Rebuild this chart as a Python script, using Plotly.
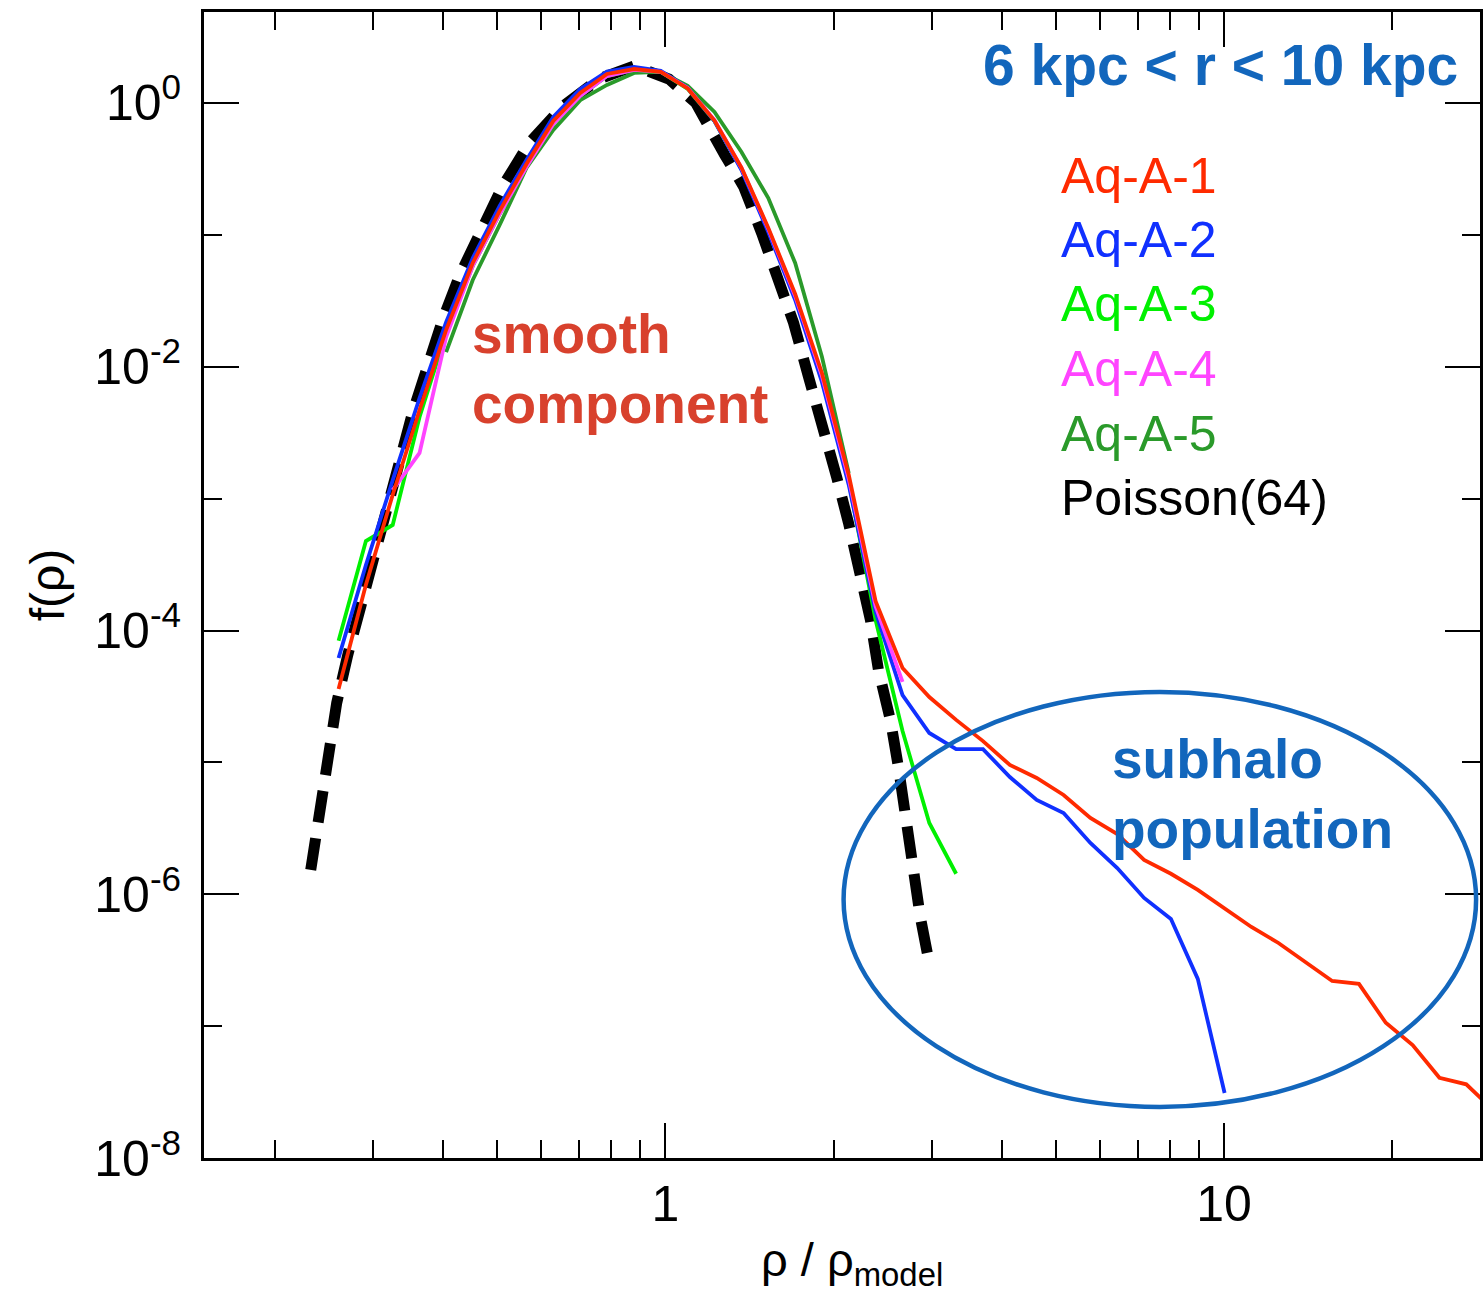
import plotly.graph_objects as go

# ---------------- data ----------------
# common density-ratio bins of the simulation histograms
rho_bins = [0.260, 0.291, 0.325, 0.363, 0.405, 0.452, 0.505, 0.564, 0.630, 0.704,
            0.786, 0.879, 0.981, 1.096, 1.224, 1.368, 1.528, 1.707, 1.906, 2.129,
            2.378, 2.657, 2.967, 3.314, 3.702, 4.135, 4.619, 5.160, 5.763, 6.438,
            7.191, 8.032, 8.972, 10.02, 11.19, 12.51, 13.97, 15.61, 17.43, 19.47,
            21.75, 24.29, 27.13, 30.30]

f_aq_a_1 = [3.60e-5, 2.22e-4, 1.07e-3, 4.70e-3, 1.90e-2, 6.12e-2, 0.152, 0.345, 0.730, 1.19,
            1.66, 1.81, 1.72, 1.29, 0.737, 0.324, 0.113, 3.56e-2, 8.97e-3, 1.51e-3,
            1.67e-4, 5.20e-5, 3.13e-5, 2.10e-5, 1.45e-5, 9.55e-6, 7.62e-6, 5.66e-6, 3.79e-6, 2.86e-6,
            1.82e-6, 1.43e-6, 1.08e-6, 7.87e-7, 5.65e-7, 4.27e-7, 3.04e-7, 2.20e-7, 2.09e-7, 1.06e-7,
            7.19e-8, 4.06e-8, 3.62e-8, 2.31e-8]

f_aq_a_2 = [6.18e-5, 3.14e-4, 1.38e-3, 5.79e-3, 2.18e-2, 6.68e-2, 0.166, 0.370, 0.783, 1.28,
            1.73, 1.88, 1.75, 1.30, 0.730, 0.310, 0.105, 3.21e-2, 7.66e-3, 1.27e-3,
            1.38e-4, 3.24e-5, 1.67e-5, 1.26e-5, 1.26e-5, 7.74e-6, 5.19e-6, 4.13e-6, 2.45e-6, 1.58e-6,
            9.37e-7, 6.49e-7, 2.28e-7, 3.11e-8,
            None, None, None, None, None, None, None, None, None, None]

f_aq_a_3 = [8.37e-5, 4.77e-4, 6.31e-4, 4.16e-3, 1.80e-2, 5.81e-2, 0.144, 0.327, 0.693, 1.13,
            1.60, 1.78, 1.72, 1.28, 0.730, 0.316, 0.109, 3.38e-2, 8.22e-3, 1.34e-3,
            1.20e-4, 1.73e-5, 3.47e-6, 1.43e-6,
            None, None, None, None, None, None, None, None, None, None,
            None, None, None, None, None, None, None, None, None, None]

f_aq_a_4 = [None, None,
            1.16e-3, 2.22e-3, 1.68e-2, 5.81e-2, 0.144, 0.327, 0.693, 1.13,
            1.60, 1.78, 1.72, 1.30, 0.743, 0.322, 0.111, 3.44e-2, 8.51e-3, 1.41e-3,
            1.53e-4, 4.07e-5,
            None, None, None, None, None, None, None, None, None, None,
            None, None, None, None, None, None, None, None, None, None,
            None, None]

f_aq_a_5 = [None, None, None, None,
            1.29e-2, 4.55e-2, 0.119, 0.322, 0.624, 1.05,
            1.37, 1.69, 1.72, 1.35, 0.855, 0.425, 0.190, 6.12e-2, 1.19e-2, 1.56e-3,
            None, None, None, None, None, None, None, None, None, None,
            None, None, None, None, None, None, None, None, None, None,
            None, None, None, None]

# Poisson(64) reference curve
rho_poisson = [0.2318, 0.2435, 0.2496, 0.2580, 0.2700, 0.2836, 0.2991, 0.3144, 0.3342, 0.3526,
               0.3735, 0.3991, 0.4278, 0.4645, 0.5105, 0.5706, 0.6533, 0.7606, 0.8786, 1.0145,
               1.1337, 1.277, 1.381, 1.487, 1.595, 1.696, 1.804, 1.919, 2.025, 2.127,
               2.234, 2.328, 2.406, 2.527, 2.612, 2.689, 2.778, 2.859, 2.954, 3.004]
f_poisson = [1.53e-6, 5.46e-6, 1.18e-5, 2.82e-5, 6.52e-5, 1.48e-4, 3.55e-4, 8.20e-4, 1.90e-3, 4.46e-3,
             9.95e-3, 2.26e-2, 4.88e-2, 0.103, 0.231, 0.497, 0.933, 1.52, 1.91, 1.52,
             1.00, 0.403, 0.231, 0.103, 4.79e-2, 2.15e-2, 8.36e-3, 3.49e-3, 1.46e-3, 6.53e-4,
             2.73e-4, 1.20e-4, 5.01e-5, 2.10e-5, 9.23e-6, 3.85e-6, 1.61e-6, 6.72e-7, 3.29e-7, 2.76e-7]

series_names = ["Aq-A-1", "Aq-A-2", "Aq-A-3", "Aq-A-4", "Aq-A-5", "Poisson(64)"]
series_colors = ["#FF2A00", "#1030FF", "#00F000", "#FF44FF", "#2A9A2A", "#000000"]

x_tickvals = [1, 10]
x_ticktext = ["1", "10"]
x_minor = [0.2, 0.3, 0.4, 0.5, 0.6, 0.7, 0.8, 0.9, 2, 3, 4, 5, 6, 7, 8, 9, 20]
y_tickvals = [1e-8, 1e-6, 1e-4, 1e-2, 1]
y_ticktext = ["10<sup>-8</sup>", "10<sup>-6</sup>", "10<sup>-4</sup>", "10<sup>-2</sup>", "10<sup>0</sup>"]
y_minor = [1e-7, 1e-5, 1e-3, 1e-1]

# subhalo region marked by the ellipse (data units)
ellipse_rho = [2.084, 28.25]
ellipse_f = [2.44e-8, 3.42e-5]

FONT = "Liberation Sans, Arial, Helvetica, sans-serif"
BLUE_TXT = "#1266BC"
RED_TXT = "#D8412D"

# ---------------- figure ----------------
fig = go.Figure()

fig.add_trace(go.Scatter(x=rho_poisson, y=f_poisson, mode="lines", name=series_names[5],
                         line=dict(color=series_colors[5], width=11, dash="32px,16px")))

sim = {"Aq-A-5": f_aq_a_5, "Aq-A-3": f_aq_a_3, "Aq-A-2": f_aq_a_2,
       "Aq-A-4": f_aq_a_4, "Aq-A-1": f_aq_a_1}
for name, vals in sim.items():
    col = series_colors[series_names.index(name)]
    fig.add_trace(go.Scatter(x=rho_bins, y=vals, mode="lines", name=name,
                             connectgaps=False, line=dict(color=col, width=3.8)))

fig.add_shape(type="circle", xref="x", yref="y",
              x0=ellipse_rho[0], x1=ellipse_rho[1], y0=ellipse_f[0], y1=ellipse_f[1],
              line=dict(color=BLUE_TXT, width=4.5))

W, H = 1483, 1295
L, R, T, B = 204, 0, 12, 137
PW, PH = W - L - R, H - T - B


def px(x):
    return (x - L) / PW


def py(y):
    return (H - B - y) / PH


ann = []
# legend-like coloured labels
legend_baselines = [192, 256, 321, 386, 450, 514]
for name, col, base in zip(series_names, series_colors, legend_baselines):
    ann.append(dict(text=name, x=px(1061), y=py(base - 16.5), xref="paper", yref="paper",
                    xanchor="left", yanchor="middle", showarrow=False,
                    font=dict(family=FONT, size=50, color=col)))

ann.append(dict(text="<b>6 kpc &lt; r &lt; 10 kpc</b>", x=px(1463), y=py(65), xref="paper", yref="paper",
                xanchor="right", yanchor="middle", showarrow=False,
                font=dict(family=FONT, size=57, color=BLUE_TXT)))
ann.append(dict(text="<b>smooth</b>", x=px(471), y=py(334), xref="paper", yref="paper",
                xanchor="left", yanchor="middle", showarrow=False,
                font=dict(family=FONT, size=55, color=RED_TXT)))
ann.append(dict(text="<b>component</b>", x=px(471), y=py(404), xref="paper", yref="paper",
                xanchor="left", yanchor="middle", showarrow=False,
                font=dict(family=FONT, size=55, color=RED_TXT)))
ann.append(dict(text="<b>subhalo</b>", x=px(1112), y=py(759), xref="paper", yref="paper",
                xanchor="left", yanchor="middle", showarrow=False,
                font=dict(family=FONT, size=55, color=BLUE_TXT)))
ann.append(dict(text="<b>population</b>", x=px(1112), y=py(829), xref="paper", yref="paper",
                xanchor="left", yanchor="middle", showarrow=False,
                font=dict(family=FONT, size=55, color=BLUE_TXT)))
# axis titles
ann.append(dict(text="f(ρ)", x=px(47), y=py(585), xref="paper", yref="paper", textangle=-90,
                xanchor="center", yanchor="middle", showarrow=False,
                font=dict(family=FONT, size=48, color="black")))
ann.append(dict(text="ρ / ρ<sub>model</sub>", x=px(854), y=py(1263), xref="paper", yref="paper",
                xanchor="center", yanchor="middle", showarrow=False,
                font=dict(family=FONT, size=47, color="black")))

axis_common = dict(showline=True, linecolor="black", linewidth=3, mirror="ticks",
                   ticks="inside", ticklen=35, tickwidth=2, tickcolor="black",
                   showgrid=False, zeroline=False, tickmode="array")

fig.update_layout(
    width=W, height=H,
    margin=dict(l=L, r=R, t=T, b=B, pad=0),
    paper_bgcolor="white", plot_bgcolor="white",
    showlegend=False,
    font=dict(family=FONT, color="black"),
    xaxis=dict(type="log", range=[-0.8259, 1.4580], tickvals=x_tickvals, ticktext=x_ticktext,
               tickfont=dict(family=FONT, size=50), ticklabelstandoff=0,
               minor=dict(ticks="inside", ticklen=18, tickwidth=2, tickcolor="black",
                          tickmode="array", tickvals=x_minor),
               **axis_common),
    yaxis=dict(type="log", range=[-8, 0.690], tickvals=y_tickvals, ticktext=y_ticktext,
               tickfont=dict(family=FONT, size=50), ticklabelstandoff=10,
               minor=dict(ticks="inside", ticklen=18, tickwidth=2, tickcolor="black",
                          tickmode="array", tickvals=y_minor),
               **axis_common),
    annotations=ann,
)

fig.write_html("out.html")
